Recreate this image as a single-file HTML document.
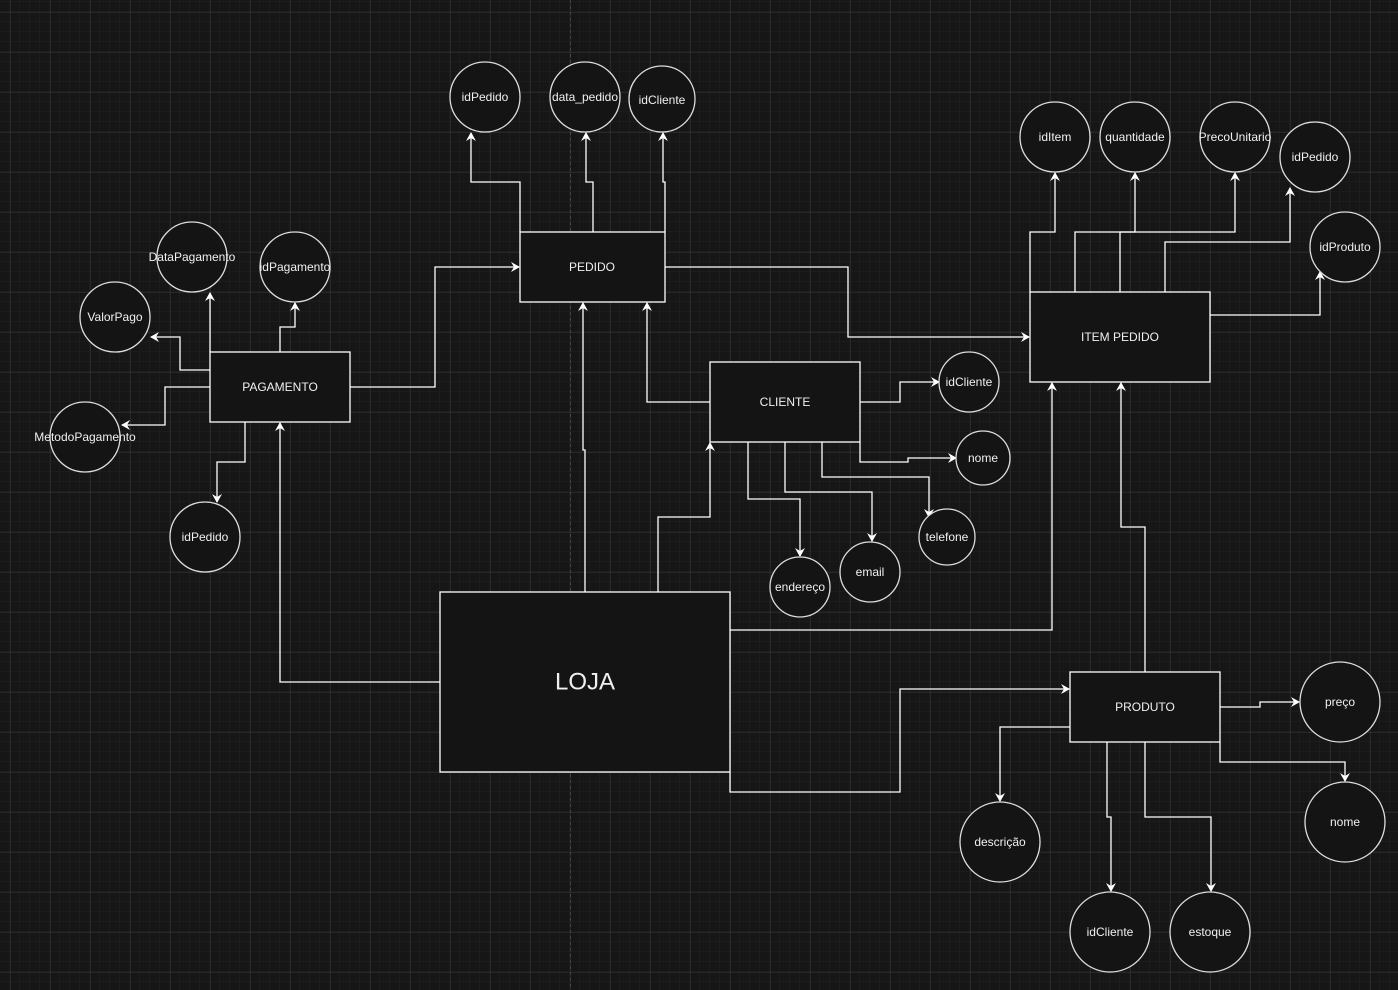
<!DOCTYPE html>
<html><head><meta charset="utf-8"><style>
html,body{margin:0;padding:0;background:#161616;}
svg{display:block;}
text{font-family:"Liberation Sans",Arial,sans-serif;font-size:12px;fill:#f0f0f0;text-anchor:middle;dominant-baseline:central;}
</style></head><body>
<svg width="1398" height="990" viewBox="0 0 1398 990" xmlns="http://www.w3.org/2000/svg">
<defs>
<pattern id="minor" width="10" height="10" patternUnits="userSpaceOnUse" x="0" y="2">
<path d="M10 0V10M0 10H10" stroke="#222" stroke-width="1" fill="none"/>
</pattern>
<pattern id="major" width="40" height="40" patternUnits="userSpaceOnUse" x="10.5" y="12.5">
<path d="M0 0V40M0 0H40" stroke="#383838" stroke-width="1" fill="none"/>
</pattern>
<marker id="a" markerWidth="10" markerHeight="10" refX="8" refY="5" orient="auto" markerUnits="userSpaceOnUse">
<path d="M0,0 L9,5 L0,10 L3,5 Z" fill="#fff"/>
</marker>
</defs>
<rect width="1398" height="990" fill="#161616"/>
<rect width="1398" height="990" fill="url(#minor)"/>
<rect width="1398" height="990" fill="url(#major)"/>
<line x1="570.5" y1="0" x2="570.5" y2="990" stroke="#444" stroke-dasharray="3,3"/>

<g fill="none" stroke="#fff" stroke-width="1.3" marker-end="url(#a)">
<polyline points="520,232 520,182 471,182 471,133"/>
<polyline points="593,232 593,182 586,182 586,133"/>
<polyline points="665,232 665,182 663,182 663,133"/>
<polyline points="665,267 848,267 848,337 1029,337"/>
<polyline points="350,387 435,387 435,267 519,267"/>
<polyline points="210,352 210,293"/>
<polyline points="280,352 280,327 295,327 295,303"/>
<polyline points="210,370 180,370 180,337 151,337"/>
<polyline points="210,387 165,387 165,425 122,425"/>
<polyline points="245,422 245,462 217,462 217,502"/>
<polyline points="440,682 280,682 280,423"/>
<polyline points="585,592 585,450 583,450 583,303"/>
<polyline points="658,592 658,517 710,517 710,443"/>
<polyline points="710,402 647,402 647,303"/>
<polyline points="730,630 1052,630 1052,383"/>
<polyline points="730,772 730,792 900,792 900,689 1069,689"/>
<polyline points="1145,672 1145,527 1121,527 1121,383"/>
<polyline points="860,402 900,402 900,382 939,382"/>
<polyline points="860,442 860,462 908,462 908,458 956,458"/>
<polyline points="822,442 822,477 929,477 929,517"/>
<polyline points="785,442 785,492 872,492 872,541"/>
<polyline points="748,442 748,499 800,499 800,556"/>
<polyline points="1030,292 1030,232 1055,232 1055,173"/>
<polyline points="1075,292 1075,232 1135,232 1135,173"/>
<polyline points="1120,292 1120,232 1235,232 1235,173"/>
<polyline points="1165,292 1165,242 1290,242 1290,188"/>
<polyline points="1210,315 1320,315 1320,272"/>
<polyline points="1220,707 1260,707 1260,702 1299,702"/>
<polyline points="1220,742 1220,762 1345,762 1345,781"/>
<polyline points="1070,727 1000,727 1000,801"/>
<polyline points="1107,742 1107,817 1111,817 1111,891"/>
<polyline points="1145,742 1145,817 1211,817 1211,891"/>
</g>

<g fill="#141414" stroke="#fff" stroke-width="1.3">
<rect x="520" y="232" width="145" height="70"/>
<rect x="210" y="352" width="140" height="70"/>
<rect x="710" y="362" width="150" height="80"/>
<rect x="1030" y="292" width="180" height="90"/>
<rect x="1070" y="672" width="150" height="70"/>
<rect x="440" y="592" width="290" height="180"/>
</g>
<g fill="#141414" stroke="#ddd" stroke-width="1.3">
<circle cx="485" cy="97" r="35"/><circle cx="585" cy="97" r="35"/><circle cx="662" cy="99" r="33"/>
<circle cx="192" cy="257" r="35"/><circle cx="295" cy="267" r="35"/><circle cx="115" cy="317" r="35"/>
<circle cx="85" cy="437" r="35"/><circle cx="205" cy="537" r="35"/>
<circle cx="1055" cy="137" r="35"/><circle cx="1135" cy="137" r="35"/><circle cx="1235" cy="137" r="35"/>
<circle cx="1315" cy="157" r="35"/><circle cx="1345" cy="247" r="35"/>
<circle cx="969" cy="382" r="30"/><circle cx="983" cy="458" r="27"/><circle cx="947" cy="537" r="28"/>
<circle cx="870" cy="572" r="30"/><circle cx="800" cy="587" r="30"/>
<circle cx="1340" cy="702" r="40"/><circle cx="1345" cy="822" r="40"/><circle cx="1000" cy="842" r="40"/>
<circle cx="1110" cy="932" r="40"/><circle cx="1210" cy="932" r="40"/>
</g>

<text x="592" y="267">PEDIDO</text>
<text x="280" y="387">PAGAMENTO</text>
<text x="785" y="402">CLIENTE</text>
<text x="1120" y="337">ITEM PEDIDO</text>
<text x="1145" y="707">PRODUTO</text>
<text x="585" y="682" style="font-size:24px">LOJA</text>
<text x="485" y="97">idPedido</text>
<text x="585" y="97">data_pedido</text>
<text x="662" y="100">idCliente</text>
<text x="192" y="257">DataPagamento</text>
<text x="295" y="267">idPagamento</text>
<text x="115" y="317">ValorPago</text>
<text x="85" y="437">MetodoPagamento</text>
<text x="205" y="537">idPedido</text>
<text x="1055" y="137">idItem</text>
<text x="1135" y="137">quantidade</text>
<text x="1235" y="137">PrecoUnitario</text>
<text x="1315" y="157">idPedido</text>
<text x="1345" y="247">idProduto</text>
<text x="969" y="382">idCliente</text>
<text x="983" y="458">nome</text>
<text x="947" y="537">telefone</text>
<text x="870" y="572">email</text>
<text x="800" y="587">endereço</text>
<text x="1340" y="702">preço</text>
<text x="1345" y="822">nome</text>
<text x="1000" y="842">descrição</text>
<text x="1110" y="932">idCliente</text>
<text x="1210" y="932">estoque</text>
</svg>
</body></html>
